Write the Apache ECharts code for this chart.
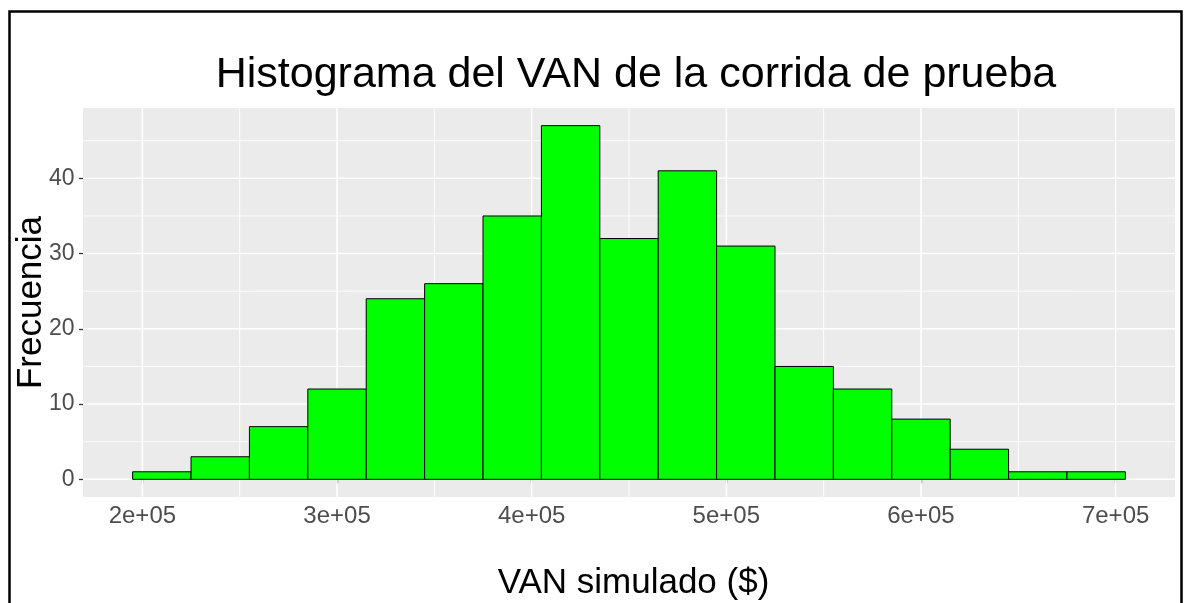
<!DOCTYPE html>
<html>
<head>
<meta charset="utf-8">
<script src="https://cdn.jsdelivr.net/npm/echarts@6/dist/echarts.min.js"></script>
<style>
  html, body { margin: 0; padding: 0; background: #fff; }
  #chart { width: 1184px; height: 603px; }
</style>
</head>
<body>
<div id="chart"></div>
<script>
// histograma: inicio de cada clase y frecuencias
const binStart = [195000, 225000, 255000, 285000, 315000, 345000, 375000, 405000, 435000,
  465000, 495000, 525000, 555000, 585000, 615000, 645000, 675000];
const binWidth = 30000;
const counts = [1, 3, 7, 12, 24, 26, 35, 47, 32, 41, 31, 15, 12, 8, 4, 1, 1];

// ejes
const xTicks = [200000, 300000, 400000, 500000, 600000, 700000];
const xTickLabels = ['2e+05', '3e+05', '4e+05', '5e+05', '6e+05', '7e+05'];
const xMinor = [250000, 350000, 450000, 550000, 650000];
const yTicks = [0, 10, 20, 30, 40];
const yMinor = [5, 15, 25, 35, 45];

const font = "'Liberation Sans', Arial, sans-serif";

function vLines(width) {
  return function (params, api) {
    const cs = params.coordSys;
    const x = api.coord([api.value(0), 0])[0];
    return {
      type: 'line',
      shape: { x1: x, y1: cs.y, x2: x, y2: cs.y + cs.height },
      style: { stroke: '#fff', lineWidth: width }
    };
  };
}
function hLines(width) {
  return function (params, api) {
    const cs = params.coordSys;
    const y = api.coord([0, api.value(1)])[1];
    return {
      type: 'line',
      shape: { x1: cs.x, y1: y, x2: cs.x + cs.width, y2: y },
      style: { stroke: '#fff', lineWidth: width }
    };
  };
}

const chart = echarts.init(document.getElementById('chart'));
const option = {
  animation: false,
  title: {
    text: 'Histograma del VAN de la corrida de prueba',
    left: 636,
    top: 54,
    padding: 0,
    textAlign: 'center',
    textStyle: { fontFamily: font, fontSize: 43, fontWeight: 'normal', color: '#000' }
  },
  graphic: [{
    type: 'rect',
    shape: { x: 9.5, y: 11.5, width: 1172, height: 700 },
    style: { fill: 'transparent', stroke: '#000', lineWidth: 2.5 },
    silent: true
  }],
  grid: {
    left: 83, right: 9, top: 108, bottom: 106,
    outerBoundsMode: 'none',
    containLabel: false,
    show: true, backgroundColor: '#EBEBEB', borderWidth: 0
  },
  xAxis: {
    type: 'value',
    min: 169500,
    max: 730500,
    name: 'VAN simulado ($)',
    nameLocation: 'middle',
    nameGap: 69,
    nameMoveOverlap: false,
    nameTextStyle: { fontFamily: font, fontSize: 35, color: '#000', padding: [0, 0, 0, 9] },
    axisLine: { show: false },
    axisTick: { show: true, customValues: xTicks, length: 4, lineStyle: { color: '#333', width: 1.3 } },
    axisLabel: {
      customValues: xTicks,
      margin: 7,
      fontFamily: font, fontSize: 24, color: '#4D4D4D',
      formatter: v => xTickLabels[xTicks.indexOf(v)]
    },
    splitLine: { show: false }
  },
  yAxis: {
    type: 'value',
    min: -2.35,
    max: 49.35,
    name: 'Frecuencia',
    nameLocation: 'middle',
    nameGap: 34.5,
    nameMoveOverlap: false,
    nameTextStyle: { fontFamily: font, fontSize: 35, color: '#000' },
    axisLine: { show: false },
    axisTick: { show: true, customValues: yTicks, length: 4, lineStyle: { color: '#333', width: 1.3 } },
    axisLabel: {
      customValues: yTicks,
      margin: 8.5,
      fontFamily: font, fontSize: 23, color: '#4D4D4D'
    },
    splitLine: { show: false }
  },
  series: [
    { type: 'custom', silent: true, z: 1, renderItem: vLines(0.9), data: xMinor.map(v => [v, 0]), encode: { x: 0, y: 1 } },
    { type: 'custom', silent: true, z: 1, renderItem: hLines(0.9), data: yMinor.map(v => [0, v]), encode: { x: 0, y: 1 } },
    { type: 'custom', silent: true, z: 1, renderItem: vLines(1.5), data: xTicks.map(v => [v, 0]), encode: { x: 0, y: 1 } },
    { type: 'custom', silent: true, z: 1, renderItem: hLines(1.5), data: yTicks.map(v => [0, v]), encode: { x: 0, y: 1 } },
    {
      type: 'custom',
      z: 2,
      renderItem: function (params, api) {
        const p0 = api.coord([api.value(0), 0]);
        const p1 = api.coord([api.value(1), api.value(2)]);
        return {
          type: 'rect',
          shape: { x: p0[0], y: p1[1], width: p1[0] - p0[0], height: p0[1] - p1[1] },
          style: { fill: '#00FF00', stroke: '#000', lineWidth: 1 }
        };
      },
      data: binStart.map((s, i) => [s, s + binWidth, counts[i]]),
      encode: { x: [0, 1], y: 2 }
    }
  ]
};
chart.setOption(option);
window.addEventListener('resize', () => chart.resize());
</script>
</body>
</html>
